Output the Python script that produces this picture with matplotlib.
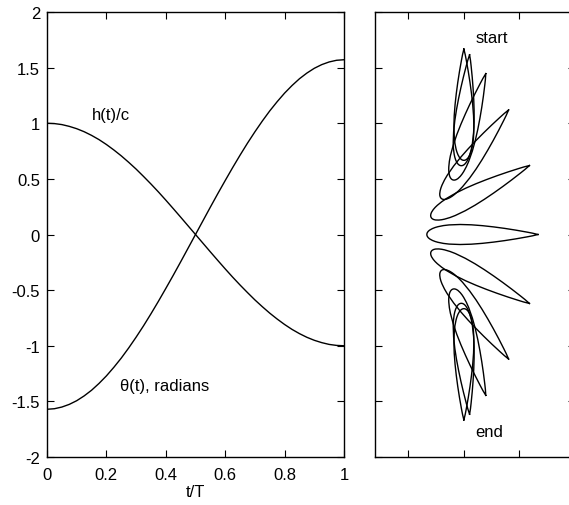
import numpy as np
import matplotlib
matplotlib.use("Agg")
import matplotlib.pyplot as plt

plt.rcParams['font.family'] = ['Liberation Sans', 'DejaVu Sans']
plt.rcParams['font.size'] = 12

# ---- time histories ----
t = [0.000, 0.025, 0.050, 0.075, 0.100, 0.125, 0.150, 0.175, 0.200, 0.225,
     0.250, 0.275, 0.300, 0.325, 0.350, 0.375, 0.400, 0.425, 0.450, 0.475,
     0.500, 0.525, 0.550, 0.575, 0.600, 0.625, 0.650, 0.675, 0.700, 0.725,
     0.750, 0.775, 0.800, 0.825, 0.850, 0.875, 0.900, 0.925, 0.950, 0.975, 1.000]
h_c = [1.000, 0.997, 0.988, 0.972, 0.951, 0.924, 0.891, 0.853, 0.809, 0.760,
       0.707, 0.649, 0.588, 0.522, 0.454, 0.383, 0.309, 0.233, 0.156, 0.078,
       0.000, -0.078, -0.156, -0.233, -0.309, -0.383, -0.454, -0.522, -0.588, -0.649,
       -0.707, -0.760, -0.809, -0.853, -0.891, -0.924, -0.951, -0.972, -0.988, -0.997, -1.000]
theta = [-1.571, -1.566, -1.551, -1.527, -1.494, -1.451, -1.400, -1.339, -1.271, -1.194,
         -1.111, -1.020, -0.923, -0.821, -0.713, -0.601, -0.485, -0.367, -0.246, -0.123,
         0.000, 0.123, 0.246, 0.367, 0.485, 0.601, 0.713, 0.821, 0.923, 1.020,
         1.111, 1.194, 1.271, 1.339, 1.400, 1.451, 1.494, 1.527, 1.551, 1.566, 1.571]

# ---- foil snapshots (right panel) ----
snap_t = [0.0, 0.1, 0.2, 0.3, 0.4, 0.5, 0.6, 0.7, 0.8, 0.9, 1.0]
snap_h = [1.000, 0.951, 0.809, 0.588, 0.309, 0.000, -0.309, -0.588, -0.809, -0.951, -1.000]
snap_theta = [-1.571, -1.494, -1.271, -0.923, -0.485, 0.000, 0.485, 0.923, 1.271, 1.494, 1.571]

# foil section: chord stations and half-thickness (chord = 1)
foil_x = [0.0, 0.0005, 0.002, 0.005, 0.0125, 0.025, 0.05, 0.075, 0.10, 0.15, 0.20,
          0.30, 0.40, 0.50, 0.60, 0.70, 0.80, 0.90, 0.95, 1.00]
foil_y = [0.0, 0.0060, 0.0117, 0.0183, 0.0285, 0.0393, 0.0533, 0.0630, 0.0702, 0.0802,
          0.0861, 0.0900, 0.0871, 0.0794, 0.0684, 0.0550, 0.0394, 0.0217, 0.0121, 0.0]
pivot = 1.0 / 3.0

fig = plt.figure(figsize=(5.69, 5.06), dpi=100)

# left panel
ax1 = fig.add_axes([47/569, 48/506, 297/569, 445/506])
ax1.plot(t, h_c, color='black', lw=1.0)
ax1.plot(t, theta, color='black', lw=1.0)
ax1.set_xlim(0, 1)
ax1.set_ylim(-2, 2)
ax1.set_xticks([0, 0.2, 0.4, 0.6, 0.8, 1])
ax1.set_xticklabels(['0', '0.2', '0.4', '0.6', '0.8', '1'])
ax1.set_yticks([-2, -1.5, -1, -0.5, 0, 0.5, 1, 1.5, 2])
ax1.set_yticklabels(['-2', '-1.5', '-1', '-0.5', '0', '0.5', '1', '1.5', '2'])
ax1.tick_params(direction='in', top=True, right=True, length=5, width=0.8,
                labelsize=12)
ax1.tick_params(axis='y', pad=5)
ax1.tick_params(axis='x', pad=7)
ax1.set_xlabel('t/T', fontsize=12, labelpad=2)
ax1.text(0.15, 1.08, 'h(t)/c', fontsize=12, va='center', ha='left')
ax1.text(0.245, -1.355, 'θ(t), radians', fontsize=12, va='center', ha='left')
for s in ax1.spines.values():
    s.set_linewidth(1.0)

# right panel
ax2 = fig.add_axes([375/569, 48/506, 200/569, 445/506])
xs = np.array(foil_x) - pivot
ys = np.array(foil_y)
px = np.concatenate([xs[::-1], xs[1:]])
py = np.concatenate([ys[::-1], -ys[1:]])
for hh, th in zip(snap_h, snap_theta):
    c, s = np.cos(th), np.sin(th)
    X = px * c + py * s
    Y = hh - px * s + py * c
    ax2.plot(X, Y, color='black', lw=1.0)
ax2.set_xlim(-0.8, 1.0)
ax2.set_ylim(-2, 2)
ax2.set_xticks([-0.5, 0, 0.5])
ax2.set_yticks([-2, -1.5, -1, -0.5, 0, 0.5, 1, 1.5, 2])
ax2.set_xticklabels([])
ax2.set_yticklabels([])
ax2.tick_params(direction='in', top=True, right=True, length=5, width=0.8)
for s in ax2.spines.values():
    s.set_linewidth(1.0)
ax2.text(0.105, 1.775, 'start', fontsize=12, va='center', ha='left')
ax2.text(0.105, -1.775, 'end', fontsize=12, va='center', ha='left')

fig.savefig('out.png', dpi=100)
